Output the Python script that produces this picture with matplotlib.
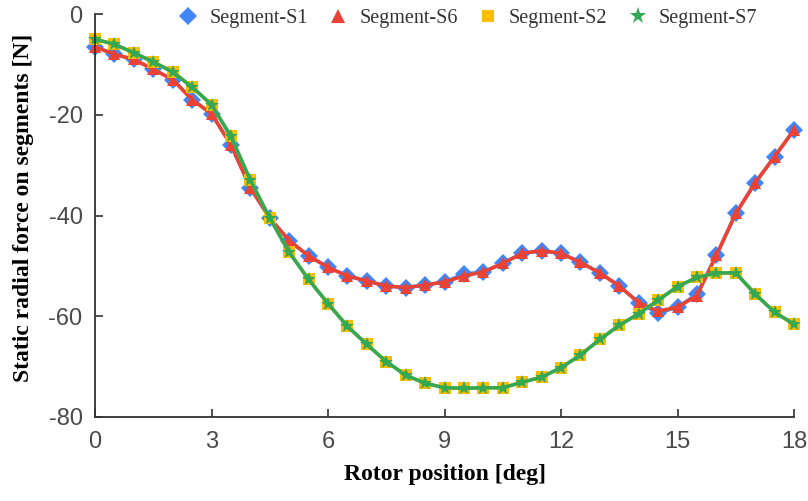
import matplotlib.pyplot as plt
from matplotlib.lines import Line2D
import numpy as np

plt.rcParams['axes.unicode_minus'] = False

# Rotor position in degrees (0.5 deg step)
posicion = np.arange(0, 18.01, 0.5)

fuerza_s1 = [-6.5, -8.0, -9.0, -11.0, -13.0, -17.0, -19.8, -26.0, -34.5, -40.5,
             -45.0, -48.0, -50.3, -52.0, -53.0, -54.0, -54.3, -53.8, -53.2, -51.6,
             -51.2, -49.5, -47.5, -47.0, -47.5, -49.3, -51.4, -54.0, -57.3, -59.4,
             -58.2, -55.6, -47.9, -39.6, -33.5, -28.3, -23.0]
fuerza_s6 = [-6.5, -8.0, -9.0, -11.0, -13.0, -17.0, -19.8, -26.0, -34.5, -40.5,
             -45.0, -48.0, -50.3, -52.0, -53.0, -54.0, -54.3, -53.8, -53.2, -52.0,
             -51.2, -49.5, -47.5, -47.0, -47.5, -49.3, -51.4, -54.0, -57.3, -59.0,
             -58.2, -55.9, -47.9, -39.6, -33.5, -28.3, -23.0]
fuerza_s2 = [-5.0, -6.0, -7.7, -9.5, -11.5, -14.5, -18.0, -24.3, -33.0, -40.5,
             -47.3, -52.7, -57.5, -62.0, -65.6, -69.0, -71.7, -73.3, -74.2, -74.3,
             -74.2, -74.2, -73.1, -72.1, -70.2, -67.7, -64.6, -61.8, -59.5, -56.8,
             -54.1, -52.3, -51.4, -51.4, -55.6, -59.2, -61.6]
fuerza_s7 = list(fuerza_s2)

etiquetas = ['Segment-S1', 'Segment-S6', 'Segment-S2', 'Segment-S7']

azul = '#4285F4'
rojo = '#EA4335'
amarillo = '#FBBC04'
verde = '#34A853'

series = [
    (fuerza_s1, azul, 'D', 9.5, 2.4, 1.0),
    (fuerza_s6, rojo, '^', 8.5, 2.6, 1.15),
    (fuerza_s2, amarillo, 's', 8.5, 2.4, 1.1),
    (fuerza_s7, verde, '*', 10.0, 2.6, 1.25),
]

fig = plt.figure(figsize=(8.08, 5.01), dpi=100)
ax = fig.add_axes([0.1176, 0.1677, 0.8651, 0.8043])

handles = []
for (datos, color, marca, tam, grosor, escala), nombre in zip(series, etiquetas):
    ax.plot(posicion, datos, color=color, lw=grosor, marker=marca, ms=tam, mew=0,
            clip_on=False)
    # legend shows markers only
    handles.append(Line2D([], [], ls='none', marker=marca, color=color,
                          ms=tam * escala, mew=0, label=nombre))

ax.set_xlim(0, 18)
ax.set_ylim(-80, 0)
ax.set_xticks(range(0, 19, 3))
ax.set_yticks(range(-80, 1, 20))

for lado in ['top', 'right']:
    ax.spines[lado].set_visible(False)
for lado in ['left', 'bottom']:
    ax.spines[lado].set_color('#333333')
    ax.spines[lado].set_linewidth(1.3)

ax.tick_params(axis='both', direction='in', length=6, width=1.2, color='#333333',
               labelsize=17, labelcolor='#4a4a4a')
ax.tick_params(axis='x', pad=10)
ax.tick_params(axis='y', pad=9)
for lbl in ax.get_xticklabels() + ax.get_yticklabels():
    lbl.set_family('Liberation Sans')

ax.set_xlabel('Rotor position [deg]', family='Liberation Serif', fontweight='bold',
              fontsize=17, labelpad=8)
ax.set_ylabel('Static radial force on segments [N]', family='Liberation Serif',
              fontweight='bold', fontsize=17)
ax.yaxis.set_label_coords(-0.088, 0.52)

fig.legend(handles=handles, loc='center', bbox_to_anchor=(0.579, 0.963), ncol=4,
           frameon=False, prop={'family': 'Liberation Serif', 'size': 14.5},
           handlelength=1.0, handletextpad=0.55, columnspacing=1.0,
           labelcolor='#333333')

plt.savefig('out.png', dpi=100)
plt.close()
